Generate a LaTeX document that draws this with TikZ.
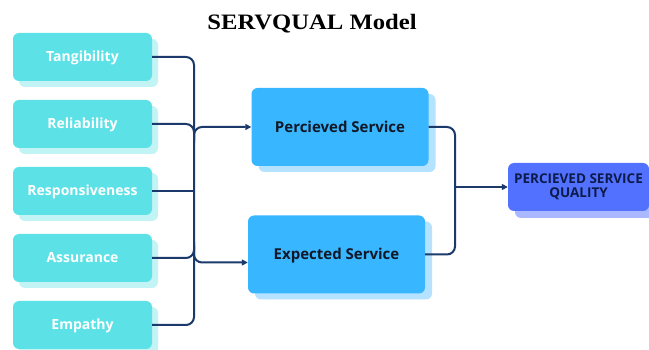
\documentclass[tikz,border=0pt]{standalone}
\usepackage{fontspec}
\setmainfont{Open Sans}
\newfontfamily\titlefont{Liberation Serif}
\usetikzlibrary{shadows,arrows.meta,calc}
\definecolor{cyanbox}{HTML}{5CE1E6}
\definecolor{cyanshadow}{HTML}{C2F3F5}
\definecolor{midbox}{HTML}{38B6FF}
\definecolor{midshadow}{HTML}{B5E2FF}
\definecolor{finbox}{HTML}{5271FF}
\definecolor{finshadow}{HTML}{A9B8FF}
\definecolor{navy}{HTML}{1B3A6B}
\definecolor{darktext}{HTML}{111827}
\definecolor{fintext}{HTML}{0D1B4B}
\tikzset{
  leftbox/.style={fill=cyanbox, rounded corners=6pt, minimum width=139pt, minimum height=48pt,
    text=white, font=\fontsize{14}{16}\selectfont\bfseries, text depth=1pt,
    drop shadow={shadow xshift=6pt, shadow yshift=-6pt, fill=cyanshadow, opacity=1}},
  midboxst/.style={fill=midbox, rounded corners=6pt, minimum width=177pt, minimum height=78pt,
    text=darktext, font=\fontsize{15}{17}\selectfont\bfseries, text depth=1pt,
    drop shadow={shadow xshift=7pt, shadow yshift=-6pt, fill=midshadow, opacity=1}},
  finboxst/.style={fill=finbox, rounded corners=6pt, minimum width=141pt, minimum height=48pt,
    text=fintext, font=\fontsize{13.5}{16}\selectfont\bfseries, align=center,
    drop shadow={shadow xshift=7pt, shadow yshift=-7pt, fill=finshadow, opacity=1}},
  conn/.style={draw=navy, line width=2pt, rounded corners=8pt},
  arr/.style={conn, -{Triangle[length=6pt,width=6pt]}}
}
\begin{document}
\begin{tikzpicture}[x=1pt,y=-1pt]
\useasboundingbox (0,0) rectangle (649,350);
\fill[white] (0,0) rectangle (649,350);
\node (title) at (312,24) {\titlefont\bfseries\fontsize{22}{26}\selectfont\scalebox{1.12}[1]{SERVQUAL Model}};
\node[leftbox] (tang) at (82.5,57) {Tangibility};
\node[leftbox] (rel) at (82.5,124) {Reliability};
\node[leftbox] (resp) at (82.5,191) {Responsiveness};
\node[leftbox] (ass) at (82.5,258) {Assurance};
\node[leftbox] (emp) at (82.5,325) {Empathy};
\node[midboxst] (ps) at (340,127) {Percieved Service};
\node[midboxst] (es) at (336.5,254.5) {Expected Service};
\node[finboxst] (pq) at (578.5,187) {PERCIEVED SERVICE\\[-2pt]QUALITY};
\coordinate (bus) at (194,191);
\coordinate (rbus) at (455,187);
\coordinate (esin) at ($(es.west)+(0,8)$);
\draw[conn] (tang.east) -| (bus) |- (emp.east);
\draw[conn] (resp.east) -- (bus);
\draw[conn] (rel.east) -- (rel.east -| bus) -- ++(0,16);
\draw[conn] (ass.east) -- (ass.east -| bus) -- ++(0,-16);
\draw[arr] ($(ps.west -| bus)+(0,16)$) -- (ps.west -| bus) -- (ps.west);
\draw[arr] ($(esin -| bus)+(0,-16)$) -- (esin -| bus) -- (esin);
\draw[conn] (ps.east) -| (rbus) |- (es.east);
\draw[arr] (rbus) -- (pq.west);
\end{tikzpicture}
\end{document}
